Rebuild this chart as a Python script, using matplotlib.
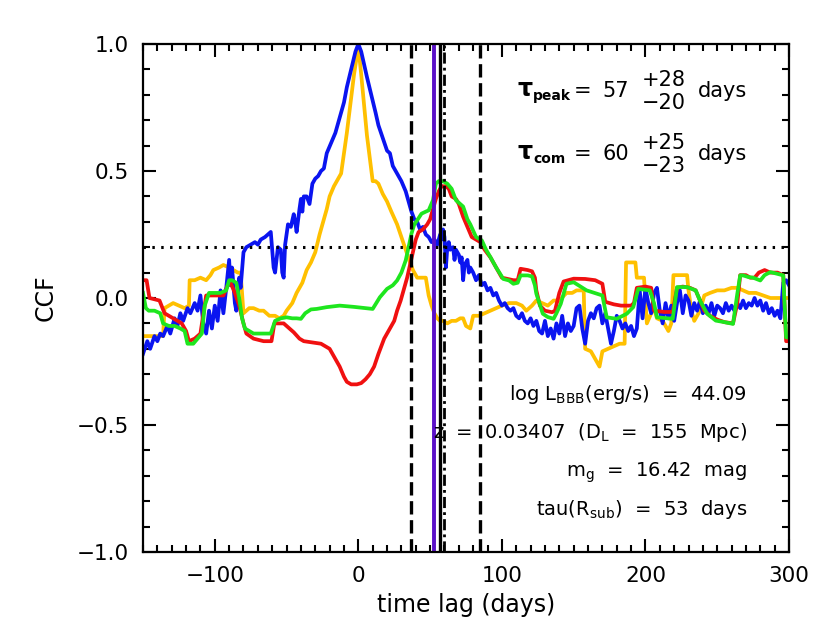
import numpy as np
import matplotlib.pyplot as plt

# ACF / CCF curves (lag in days, correlation)
lag_blue = [-150, -147, -145, -142, -140, -138, -136, -133, -131, -128, -126, -124, -122, -119, -117,
            -114, -112, -110, -108, -106, -104, -102, -100, -98, -96, -94, -92, -90, -89, -88, -86,
            -85, -83, -82, -80, -78, -75, -72, -70, -68, -65, -63, -61, -59, -58, -56, -54, -53, -52,
            -51, -49, -47, -45, -44, -43, -41, -40, -39, -38, -36, -34, -32, -30, -28, -26, -24, -22,
            -19, -16, -13, -10, -8, -5, -2, 0, 2, 4, 6, 9, 12, 14, 17, 20, 22, 24, 27, 30, 33, 35, 37,
            39, 41, 43, 45, 47, 49, 51, 53, 55, 57, 58, 59, 60, 61, 62, 63, 64, 66, 67, 68, 70, 71,
            72, 73, 74, 76, 77, 78, 80, 82, 84, 86, 88, 90, 92, 94, 96, 98, 100, 102, 104, 106, 108,
            110, 112, 114, 116, 118, 120, 122, 124, 126, 128, 130, 132, 134, 136, 138, 140, 142, 144,
            146, 148, 150, 152, 154, 156, 158, 160, 162, 164, 166, 168, 170, 172, 174, 176, 178, 180,
            182, 184, 186, 188, 190, 192, 194, 196, 198, 200, 202, 204, 206, 208, 210, 212, 214, 216,
            218, 220, 222, 224, 226, 228, 230, 232, 234, 236, 238, 240, 242, 244, 246, 248, 250, 252,
            254, 256, 258, 260, 262, 264, 266, 268, 270, 272, 274, 276, 278, 280, 282, 284, 286, 288,
            290, 292, 294, 296, 298, 300]
ccf_blue = [-0.22, -0.17, -0.20, -0.15, -0.17, -0.14, -0.15, -0.11, -0.14, -0.08, -0.11, -0.06, -0.09,
            -0.04, -0.06, -0.02, -0.05, 0.01, -0.10, -0.14, -0.05, -0.12, -0.03, -0.09, 0.03, -0.06,
            0.04, 0.15, 0.05, 0.12, -0.02, -0.05, 0.08, 0.04, 0.18, 0.20, 0.21, 0.22, 0.21, 0.23, 0.24,
            0.25, 0.26, 0.12, 0.10, 0.20, 0.19, 0.10, 0.08, 0.21, 0.29, 0.28, 0.33, 0.30, 0.26, 0.35,
            0.39, 0.34, 0.40, 0.40, 0.37, 0.45, 0.47, 0.48, 0.50, 0.51, 0.57, 0.61, 0.65, 0.71, 0.77,
            0.83, 0.90, 0.97, 1.00, 0.97, 0.92, 0.87, 0.80, 0.73, 0.68, 0.63, 0.58, 0.57, 0.52, 0.49,
            0.46, 0.42, 0.38, 0.34, 0.31, 0.30, 0.27, 0.28, 0.25, 0.24, 0.22, 0.23, 0.21, 0.25, 0.23,
            0.27, 0.24, 0.12, 0.20, 0.22, 0.19, 0.20, 0.15, 0.19, 0.17, 0.14, 0.16, 0.07, 0.13, 0.15,
            0.10, 0.12, 0.10, 0.07, 0.09, 0.05, 0.06, 0.03, 0.04, 0.01, 0.02, -0.01, -0.03, -0.02,
            -0.04, -0.05, -0.04, -0.07, -0.08, -0.06, -0.09, -0.10, -0.08, -0.11, -0.09, -0.13, -0.14,
            -0.09, -0.15, -0.12, -0.16, -0.10, -0.14, -0.07, -0.15, -0.10, -0.13, -0.11, -0.04, -0.03,
            -0.12, -0.18, -0.09, -0.06, -0.08, -0.04, -0.03, -0.10, -0.06, -0.12, -0.18, -0.13, -0.07,
            -0.09, -0.12, -0.10, -0.13, -0.11, -0.15, -0.12, 0.03, -0.08, 0.04, -0.02, -0.06, 0.02,
            0.04, -0.05, -0.10, -0.02, -0.08, -0.03, -0.09, -0.02, 0.03, -0.06, 0.01, -0.01, -0.07,
            -0.02, -0.05, -0.01, -0.06, -0.03, -0.06, -0.02, -0.07, -0.03, -0.04, -0.06, -0.02, -0.05,
            -0.03, -0.05, -0.02, -0.04, -0.01, -0.04, -0.02, -0.03, 0.00, -0.03, -0.01, -0.05, -0.02,
            -0.06, -0.04, -0.07, -0.05, -0.08, 0.06, 0.07, 0.05]

lag_orange = [-150, -136, -135, -132, -129, -125, -121, -118, -117.5, -114, -110, -106, -103, -101, -97,
              -94, -90, -87, -84, -82, -80, -76, -73, -69, -66, -62, -58, -55, -52, -50, -46, -43, -39,
              -36, -33, -30, -27, -25, -22, -20, -17, -14, -12, -10, -8, -5, -3, 0, 2, 4, 6, 8, 10,
              12, 14, 17, 20, 23, 27, 30, 33, 36, 38, 41, 44, 47, 49, 51, 53, 55, 57, 59, 62, 65, 68,
              71, 73, 75, 78, 80, 84, 88, 92, 96, 100, 105, 110, 114, 117, 121, 124, 128, 132, 136,
              140, 145, 149, 152, 157, 158, 162, 165, 168, 170, 174, 178, 182, 185.5, 186.5, 193, 194,
              199, 201, 204, 206, 208, 212, 216, 218, 219.5, 229, 230, 232, 234, 236, 238, 241, 245,
              250, 255, 260, 264, 268, 272, 277, 282, 287, 292, 298]
ccf_orange = [-0.15, -0.15, -0.04, -0.03, -0.02, -0.03, -0.04, -0.03, 0.07, 0.07, 0.08, 0.07, 0.09,
              0.11, 0.12, 0.13, 0.12, 0.11, 0.10, 0.10, -0.06, -0.04, -0.04, -0.05, -0.05, -0.07,
              -0.07, -0.08, -0.07, -0.05, -0.02, 0.02, 0.06, 0.11, 0.14, 0.18, 0.25, 0.29, 0.35, 0.40,
              0.44, 0.47, 0.49, 0.57, 0.65, 0.79, 0.88, 0.99, 0.88, 0.76, 0.64, 0.55, 0.46, 0.46, 0.45,
              0.41, 0.38, 0.34, 0.29, 0.24, 0.19, 0.14, 0.11, 0.08, 0.08, 0.08, 0.01, -0.03, -0.06,
              -0.08, -0.09, -0.09, -0.10, -0.09, -0.09, -0.08, -0.08, -0.11, -0.12, -0.07, -0.07,
              -0.06, -0.05, -0.04, -0.03, -0.02, -0.02, -0.03, -0.05, -0.03, -0.01, -0.02, -0.03,
              -0.01, -0.01, 0.02, 0.02, 0.03, 0.03, -0.20, -0.21, -0.24, -0.27, -0.21, -0.20, -0.19,
              -0.18, -0.18, 0.14, 0.14, 0.08, 0.08, -0.10, -0.06, -0.04, -0.08, -0.09, -0.13, -0.10,
              0.09, 0.09, 0.03, -0.05, -0.09, -0.07, -0.05, 0.01, 0.02, 0.03, 0.03, 0.04, 0.04, 0.03,
              0.02, 0.02, 0.01, 0.00, 0.00, 0.00]

lag_red = [-150, -147.5, -145.5, -138.5, -135, -129, -123, -120, -118, -114, -110, -106, -100, -94, -91,
           -89, -86, -83, -80, -78, -73, -66, -60.5, -58.5, -52, -48, -45, -41, -38, -32, -26, -20,
           -16, -13, -10, -8, -5, -1, 2, 5, 8, 11, 14, 16, 18, 20, 23, 25, 27, 29.5, 32, 34, 36, 38,
           40, 42, 45, 48, 50, 52, 54, 56, 58, 61, 63, 65, 68, 70, 73, 76, 79, 82, 85, 88, 92, 96,
           100, 104, 108, 111, 113, 118, 121, 123, 124, 126.5, 130, 135, 137, 140, 143, 150, 158,
           165, 170, 172, 178, 183, 190, 192, 194, 200, 204, 206, 213, 219, 222, 226, 231, 235, 238,
           241, 245, 250, 255, 261, 264, 266, 270, 273, 276, 279, 283, 287, 292, 296, 298, 300]
ccf_red = [0.07, 0.07, 0.00, -0.01, -0.06, -0.08, -0.10, -0.13, -0.17, -0.16, -0.14, 0.01, 0.01, 0.01,
           0.05, 0.06, 0.02, -0.03, -0.10, -0.14, -0.16, -0.17, -0.17, -0.10, -0.10, -0.12, -0.135,
           -0.16, -0.17, -0.175, -0.18, -0.20, -0.24, -0.27, -0.31, -0.33, -0.34, -0.34, -0.335,
           -0.32, -0.30, -0.27, -0.22, -0.19, -0.16, -0.14, -0.11, -0.09, -0.05, -0.01, 0.04, 0.08,
           0.13, 0.18, 0.23, 0.26, 0.27, 0.29, 0.31, 0.35, 0.39, 0.42, 0.44, 0.44, 0.43, 0.40, 0.39,
           0.37, 0.32, 0.28, 0.24, 0.23, 0.22, 0.19, 0.16, 0.12, 0.08, 0.075, 0.07, 0.07, 0.115,
           0.11, 0.105, 0.08, 0.03, -0.03, -0.05, -0.056, -0.05, 0.02, 0.065, 0.076, 0.075, 0.07,
           0.056, -0.015, -0.025, -0.03, -0.03, -0.02, 0.04, 0.045, 0.04, -0.05, -0.055, -0.055,
           0.04, 0.045, 0.04, 0.03, -0.01, -0.05, -0.07, -0.085, -0.095, -0.10, -0.02, 0.09, 0.09,
           0.08, 0.08, 0.10, 0.11, 0.10, 0.10, 0.09, -0.17, -0.17]

lag_green = [-150, -148, -146, -142, -138, -136, -132, -128, -124, -121, -119, -115, -112, -109, -107,
             -104, -100, -96, -92, -90, -88, -85, -83, -81, -79, -76, -73, -69, -64, -61, -58, -54,
             -50, -46, -43, -40, -37, -33, -29, -22, -13, -3, 10, 15, 20, 24, 27, 30, 33, 35, 37, 39,
             41, 44, 47, 49, 52, 54, 56, 59, 62, 65, 68, 71, 73, 76, 78, 82, 86, 89, 92, 96, 101, 105,
             108, 111, 113, 118, 121, 123, 124, 128.5, 132, 136, 138, 141, 145, 150, 159, 170, 173,
             180, 187, 191.5, 195, 203, 206, 208, 219, 222, 229, 235, 238, 243, 249, 255, 261, 264,
             266, 268, 272, 275, 280, 283, 287, 292, 296, 298, 300]
ccf_green = [0.02, -0.04, -0.05, -0.05, -0.06, -0.10, -0.11, -0.11, -0.12, -0.13, -0.18, -0.18, -0.16,
             -0.14, -0.03, 0.02, 0.02, 0.02, 0.03, 0.07, 0.07, 0.06, 0.00, -0.08, -0.12, -0.13,
             -0.14, -0.14, -0.14, -0.14, -0.09, -0.08, -0.076, -0.08, -0.08, -0.082, -0.06, -0.045,
             -0.043, -0.036, -0.03, -0.035, -0.043, 0.003, 0.036, 0.05, 0.069, 0.10, 0.148, 0.20,
             0.253, 0.29, 0.306, 0.332, 0.34, 0.345, 0.385, 0.45, 0.46, 0.46, 0.45, 0.43, 0.385, 0.37,
             0.36, 0.31, 0.29, 0.24, 0.227, 0.19, 0.161, 0.12, 0.075, 0.069, 0.056, 0.06, 0.089, 0.089,
             0.085, 0.05, 0.017, -0.062, -0.075, -0.082, -0.06, -0.023, 0.056, 0.062, 0.03, 0.01,
             -0.076, -0.082, -0.062, -0.036, 0.036, 0.03, -0.02, -0.076, -0.082, 0.043, 0.043, 0.03,
             -0.01, -0.062, -0.089, -0.095, -0.102, 0.017, 0.089, 0.089, 0.082, 0.08, 0.069, 0.09,
             0.102, 0.095, 0.089, -0.155, -0.155]

tau_rsub = 53
tau_peak, peak_lo, peak_hi = 57, 20, 28
tau_com, com_lo, com_hi = 60, 23, 25
ccf_threshold = 0.2

W, H = 830, 643
fig = plt.figure(figsize=(W / 100, H / 100), dpi=100)
ax = fig.add_axes([143 / W, 1 - 552 / H, (789 - 143) / W, (552 - 44) / H])

lw = 2.7
ax.plot(lag_orange, ccf_orange, color='#FFC000', lw=lw)
ax.plot(lag_blue, ccf_blue, color='#0A14F0', lw=lw)
ax.plot(lag_red, ccf_red, color='#F01010', lw=lw)
ax.plot(lag_green, ccf_green, color='#1EE61E', lw=lw)

# lag markers
for x in (tau_peak - peak_lo, tau_peak + peak_hi):
    ax.axvline(x, color='black', lw=2.4, dashes=(4.0, 1.7))
ax.axvline(tau_rsub, color='#5A10C8', lw=2.8)
ax.axvline(tau_peak, color='black', lw=2.4)
ax.axvline(tau_com, color='black', lw=2.0, dashes=(4, 1.5, 1, 1.5))
ax.axhline(ccf_threshold, color='black', lw=2.2, dashes=(0.8, 2.1))

ax.set_xlim(-150, 300)
ax.set_ylim(-1, 1)
ax.set_xticks([-100, 0, 100, 200, 300])
ax.set_xticks(np.arange(-150, 301, 10), minor=True)
ax.set_yticks([-1.0, -0.5, 0.0, 0.5, 1.0])
ax.set_yticklabels(['\u22121.0', '\u22120.5', '0.0', '0.5', '1.0'])
ax.set_xticklabels(['\u2212100', '0', '100', '200', '300'])
ax.set_yticks(np.arange(-1, 1.01, 0.1), minor=True)
ax.tick_params(which='both', direction='in', top=True, right=True, width=1.5, labelsize=15.5)
ax.tick_params(which='major', length=9.5, pad=10)
ax.tick_params(which='minor', length=5)
for s in ax.spines.values():
    s.set_linewidth(1.6)

ax.set_xlabel('time lag (days)', fontsize=17, labelpad=5)
ax.set_ylabel('CCF', fontsize=17, labelpad=14)


def put(x, y, s, size=15, **kw):
    fig.text(x / W, 1 - y / H, s, fontsize=size, va='baseline', **kw)


# lag results
put(517, 96, '\u03c4', size=17, weight='bold')
put(533, 100, 'peak', size=10, weight='bold')
put(574, 97, '=')
put(602, 97, str(tau_peak))
put(642, 86, f'+{peak_hi}')
put(642, 109, f'\u2212{peak_lo}')
put(698, 97, 'days')

put(517, 159, '\u03c4', size=17, weight='bold')
put(533, 163, 'com', size=10, weight='bold')
put(574, 160, '=')
put(602, 160, str(tau_com))
put(642, 149, f'+{com_hi}')
put(642, 172, f'\u2212{com_lo}')
put(698, 160, 'days')

put(747, 400, r'log L$_{\rm BBB}$(erg/s)  =  44.09', size=14, ha='right')
put(747, 438, r'z  =  0.03407  (D$_{\rm L}$  =  155  Mpc)', size=14, ha='right')
put(747, 477, r'm$_{\rm g}$  =  16.42  mag', size=14, ha='right')
put(747, 515, r'tau(R$_{\rm sub}$)  =  53  days', size=14, ha='right')

fig.savefig('out.png', dpi=100)
